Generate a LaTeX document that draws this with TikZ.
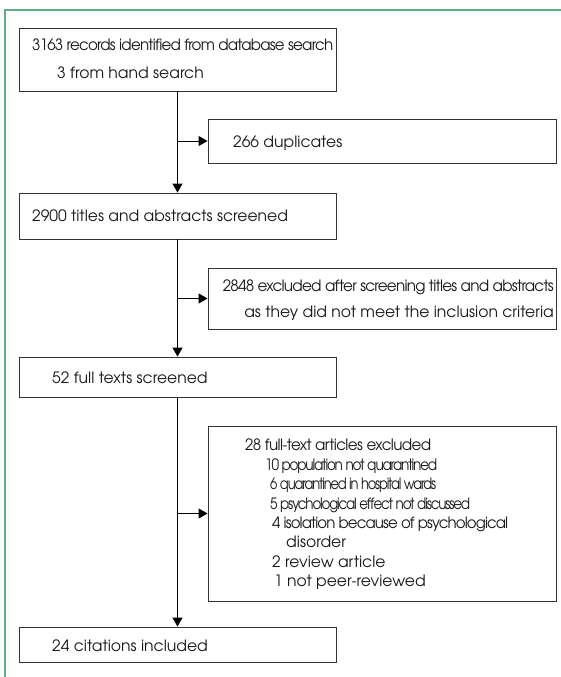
\documentclass[tikz,border=0pt]{standalone}
\usepackage{fontspec}
\setmainfont{texgyreadventor}[Extension=.otf, UprightFont=*-regular, BoldFont=*-bold]
\usetikzlibrary{arrows.meta}
\definecolor{framegreen}{HTML}{5FAE86}
\definecolor{boxline}{HTML}{333333}
\newcommand{\sqz}[2]{\resizebox{#1pt}{\height}{#2}}
\newcommand{\tight}[1]{\addfontfeature{LetterSpace=#1}}
\tikzset{
  box/.style={draw=boxline, line width=0.9pt, rectangle, inner sep=0pt},
  txt/.style={anchor=base west, inner sep=0pt, font=\fontsize{15.6}{17}\selectfont, text=black!90},
  arr/.style={draw=black, line width=0.9pt, -{Triangle[length=9pt,width=10pt]}},
  frame/.style={draw=framegreen, line width=2pt}
}
\begin{document}
\begin{tikzpicture}[x=1pt,y=-1pt]
\useasboundingbox (0,0) rectangle (561,677);
% frame
\coordinate (fr1) at (4.5,10.5);
\coordinate (fr2) at (561,10.5);
\coordinate (fr3) at (4.5,677);
\draw[frame] (fr2) -- (fr1) -- (fr3);
% boxes
\node[box, minimum width=317pt, minimum height=63pt] (b1) at (177.5,59.5) {};
\node[box, minimum width=348pt, minimum height=44pt] (b2) at (382,141) {};
\node[box, minimum width=317pt, minimum height=46pt] (b3) at (177.5,216) {};
\node[box, minimum width=348pt, minimum height=61pt] (b4) at (382,298.5) {};
\node[box, minimum width=317pt, minimum height=40pt] (b5) at (177.5,377) {};
\node[box, minimum width=348pt, minimum height=175pt] (b6) at (382,513.5) {};
\node[box, minimum width=317pt, minimum height=35pt] (b7) at (177.5,644.5) {};
% texts
\node[txt] (t1a) at (32,51) {\sqz{301}{\tight{-5}3163 records identified from database search}};
\node[txt] (t1b) at (57,78) {3 from hand search};
\node[txt] (t2) at (233,147) {266 duplicates};
\node[txt] (t3) at (32,221) {2900 titles and abstracts screened};
\node[txt, anchor=base east] (t4a) at (554,291) {\sqz{331}{\tight{-5}2848 excluded after screening titles and abstracts}};
\node[txt, anchor=base east] (t4b) at (554,317) {as they did not meet the inclusion criteria};
\node[txt] (t5) at (52,383) {52 full texts screened};
\node[txt] (t6a) at (245,450) {\sqz{186}{\tight{-4}28 full-text articles excluded}};
\node[txt] (t6b) at (265,470) {\sqz{172}{\tight{-9}10 population not quarantined}};
\node[txt] (t6c) at (270,489) {\sqz{166}{\tight{-9}6 quarantined in hospital wards}};
\node[txt] (t6d) at (270,509) {\sqz{200}{\tight{-9}5 psychological effect not discussed}};
\node[txt] (t6e) at (272,528) {\sqz{236}{\tight{-6}4 isolation because of psychological}};
\node[txt] (t6f) at (286,547) {disorder};
\node[txt] (t6g) at (272,567) {2 review article};
\node[txt] (t6h) at (274,586) {1 not peer-reviewed};
\node[txt] (t7) at (52,651) {24 citations included};
% connectors
\coordinate (v) at (177,0);
\draw[arr] (b1.south) -- (b3.north);
\draw[arr] (b3.south) -- (b5.north);
\draw[arr] (b5.south) -- (b7.north);
\draw[arr] (v |- b2.west) -- (b2.west);
\draw[arr] (v |- b4.west) -- (b4.west);
\draw[arr] (v |- b6.west) -- (b6.west);
\end{tikzpicture}
\end{document}
